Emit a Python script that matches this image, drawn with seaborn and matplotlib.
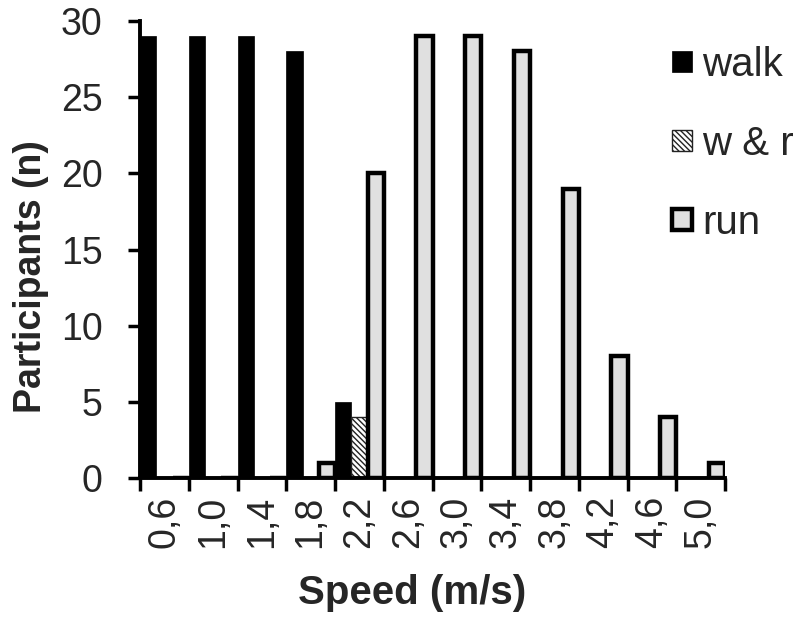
import numpy as np
import pandas as pd
import matplotlib
matplotlib.use("Agg")
import matplotlib.pyplot as plt
import seaborn as sns

# ---- data ----
speeds = ['0,6', '1,0', '1,4', '1,8', '2,2', '2,6', '3,0', '3,4', '3,8', '4,2', '4,6', '5,0']
modes = ['walk', 'w & r', 'run']
walk = [29, 29, 29, 28, 5, 0, 0, 0, 0, 0, 0, 0]
walk_run = [0, 0, 0, 0, 4, 0, 0, 0, 0, 0, 0, 0]
run = [0, 0, 0, 1, 20, 29, 29, 28, 19, 8, 4, 1]
yticks = [0, 5, 10, 15, 20, 25, 30]

df = pd.DataFrame({
    'speed': speeds * 3,
    'n': walk + walk_run + run,
    'mode': [modes[0]] * len(speeds) + [modes[1]] * len(speeds) + [modes[2]] * len(speeds),
})

sns.set_style('white')
plt.rcParams['font.family'] = ['Liberation Sans', 'DejaVu Sans']
plt.rcParams['hatch.linewidth'] = 1.0

fig = plt.figure(figsize=(8, 6.22), dpi=100)
ax = fig.add_axes([140 / 800, 1 - 478 / 622, 585 / 800, 457 / 622])

palette = {'walk': 'black', 'w & r': 'white', 'run': '#e0e0e0'}
sns.barplot(data=df, x='speed', y='n', hue='mode', order=speeds, hue_order=modes,
            palette=palette, width=1.0, dodge=True, errorbar=None, saturation=1,
            legend=False, ax=ax)

styles = [
    dict(edgecolor='black', linewidth=0.5, hatch=None),
    dict(edgecolor='#222222', linewidth=1.0, hatch='\\' * 6),
    dict(edgecolor='black', linewidth=3.2, hatch=None),
]
for cont, st in zip(ax.containers, styles):
    for p in cont.patches:
        p.set_edgecolor(st['edgecolor'])
        p.set_linewidth(st['linewidth'])
        if st['hatch']:
            p.set_hatch(st['hatch'])

ax.set_ylim(0, 30)
ax.set_xlim(-0.5, len(speeds) - 0.5)
ax.set_yticks(yticks)
ax.set_yticklabels([str(v) for v in yticks])

# category boundary ticks (Excel style) and centered labels
ax.set_xticks(np.arange(-0.5, len(speeds), 1.0))
ax.set_xticklabels([''] * (len(speeds) + 1))
ax.set_xticks(np.arange(len(speeds)), minor=True)
ax.set_xticklabels(speeds, minor=True, rotation=90, fontsize=27)
ax.tick_params(axis='x', which='major', length=9, width=2.5, color='black', bottom=True)
ax.tick_params(axis='x', which='minor', length=0, pad=13, labelsize=27)
ax.tick_params(axis='y', which='major', length=9, width=2.5, color='black', left=True,
               pad=18, labelsize=27)

for s in ['top', 'right']:
    ax.spines[s].set_visible(False)
for s in ['left', 'bottom']:
    ax.spines[s].set_linewidth(2.8)
    ax.spines[s].set_color('black')

ax.set_xlabel('Speed (m/s)', fontsize=29, fontweight='bold')
ax.set_ylabel('Participants (n)', fontsize=27, fontweight='bold')
ax.xaxis.set_label_coords(0.465, -0.21)
ax.yaxis.set_label_coords(-0.155, 0.44)

ax.legend(handles=ax.containers, labels=modes, loc='upper left',
          bbox_to_anchor=(672 / 800, 1 - 46 / 622), bbox_transform=fig.transFigure,
          frameon=False, fontsize=29, handlelength=0.5, handleheight=0.42,
          handletextpad=0.25, labelspacing=1.02, borderpad=0, borderaxespad=0)

fig.savefig('out.png', dpi=100)
